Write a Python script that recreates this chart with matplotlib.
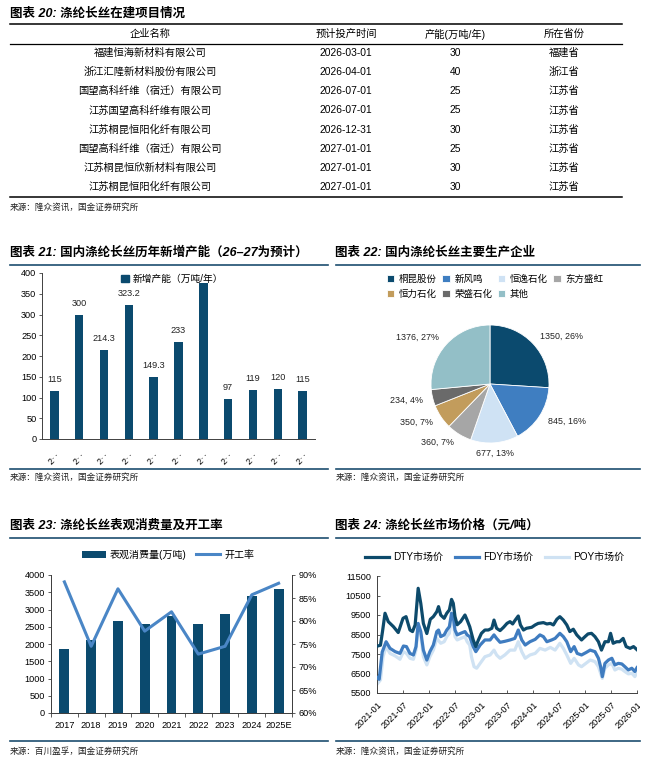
import numpy as np
import matplotlib
matplotlib.use('Agg')
import matplotlib.pyplot as plt
from matplotlib.patches import Patch
from matplotlib.ticker import FuncFormatter
from matplotlib.transforms import Bbox, TransformedBbox

plt.rcParams['font.family'] = ['Liberation Sans', 'Noto Sans CJK SC']
plt.rcParams['axes.unicode_minus'] = False

W, H = 654, 762

# ---------------- data ----------------
# 图表20 table
table_header = ['企业名称', '预计投产时间', '产能(万吨/年)', '所在省份']
companies = ['福建恒海新材料有限公司', '浙江汇隆新材料股份有限公司', '国望高科纤维（宿迁）有限公司',
             '江苏国望高科纤维有限公司', '江苏桐昆恒阳化纤有限公司', '国望高科纤维（宿迁）有限公司',
             '江苏桐昆恒欣新材料有限公司', '江苏桐昆恒阳化纤有限公司']
start_dates = ['2026-03-01', '2026-04-01', '2026-07-01', '2026-07-01',
               '2026-12-31', '2027-01-01', '2027-01-01', '2027-01-01']
capacities = [30, 40, 25, 25, 30, 25, 30, 30]
provinces = ['福建省', '浙江省', '江苏省', '江苏省', '江苏省', '江苏省', '江苏省', '江苏省']

# 图表21 new capacity
add_years = ['2017', '2018', '2019', '2020', '2021', '2022', '2023', '2024', '2025', '2026', '2027']
add_cap = [115, 300, 214.3, 323.2, 149.3, 233, 375, 97, 119, 120, 115]
add_cap_labels = ['115', '300', '214.3', '323.2', '149.3', '233', '', '97', '119', '120', '115']

# 图表22 producers
producers = ['桐昆股份', '新风鸣', '恒逸石化', '东方盛虹', '恒力石化', '荣盛石化', '其他']
producer_cap = [1350, 845, 677, 360, 350, 234, 1376]
producer_pct = [26, 16, 13, 7, 7, 4, 27]
pie_colors = ['#0b4a6e', '#3f7ec1', '#cfe2f4', '#a6a6a6', '#c29c5c', '#6a6a6a', '#93bfc7']

# 图表23 consumption & operating rate
cons_years = ['2017', '2018', '2019', '2020', '2021', '2022', '2023', '2024', '2025E']
consumption = [1850, 2130, 2680, 2570, 2800, 2570, 2880, 3400, 3600]
op_rate = [88.5, 74.5, 87.0, 77.8, 82.0, 72.8, 74.5, 85.7, 88.2]

# 图表24 prices, x = months since 2021-01
dty_m = [0, 0.8, 1.3, 1.85, 2.6, 3.8, 4.9, 6.0, 6.7, 7.6, 8.2, 8.8, 9.5, 10.1, 10.7, 11.5,
         12.3, 13.0, 13.8, 14.2, 14.7, 15.5, 16.1, 16.7, 17.2, 17.6, 18.0, 18.5, 19.3, 20.3,
         20.8, 21.4, 22.2, 22.8, 23.4, 24.1, 24.9, 25.7, 26.5, 27.0, 27.6, 28.4, 29.2, 30.0,
         30.7, 31.3, 31.9, 32.6, 33.1, 33.8, 34.5, 35.7, 36.5, 37.2, 38.4, 39.2, 40.0, 40.7,
         41.5, 42.2, 43.0, 43.8, 44.5, 45.3, 46.1, 47.2, 48.0, 48.7, 49.5, 50.3, 51.1, 51.8,
         52.6, 53.4, 53.9, 54.5, 55.3, 56.0, 56.8, 57.5, 58.4, 59.2, 60.0]
dty_v = [7900, 7950, 8700, 9590, 9160, 8900, 8600, 9330, 9415, 8730, 8650, 8990, 10870, 10100, 9070, 8550,
         9280, 9415, 9670, 9930, 9500, 9330, 9590, 9760, 10300, 10100, 9415, 9000, 9160, 9500,
         9240, 8900, 8220, 7880, 8220, 8560, 8730, 8730, 8820, 9240, 8820, 8700, 8870, 9070,
         9160, 9040, 9240, 9450, 8990, 8730, 8820, 8870, 8990, 9070, 9110, 9040, 9070, 8990,
         9280, 9415, 9240, 8990, 8650, 8770, 8480, 8220, 8390, 8530, 8560, 8390, 8130, 7700,
         8130, 8130, 8560, 8050, 8130, 8130, 8300, 7880, 7790, 7880, 7720]

fdy_m = [0, 0.5, 1.2, 2.1, 3.0, 4.2, 5.3, 6.1, 6.8, 7.6, 8.4, 9.0, 9.5, 10.1, 10.7, 11.5,
         12.2, 13.0, 13.8, 14.2, 14.7, 15.5, 16.1, 16.7, 17.2, 17.6, 18.0, 18.5, 19.3, 20.3,
         20.8, 21.4, 22.2, 22.8, 23.8, 24.9, 26.1, 27.0, 27.6, 28.4, 29.5, 30.7, 31.8, 32.6,
         33.4, 34.2, 35.3, 36.5, 37.6, 38.4, 39.2, 40.3, 41.1, 42.2, 43.0, 43.8, 44.7, 45.5,
         46.2, 47.2, 48.2, 49.2, 50.3, 51.1, 51.6, 52.0, 52.6, 53.4, 54.2, 54.9, 55.7, 56.5,
         57.2, 58.0, 58.8, 59.5, 60.0]
fdy_v = [6300, 6200, 7600, 8130, 7790, 7620, 7530, 7910, 7880, 7530, 7450, 7880, 9070, 8650, 7700, 7190,
         7620, 7960, 8650, 8730, 8390, 8480, 8730, 8900, 9590, 9415, 8730, 8480, 8560, 8650,
         8480, 8390, 7880, 7620, 7960, 8220, 8220, 8480, 8300, 8100, 8150, 8220, 8300, 8730,
         8220, 7960, 8130, 8250, 8480, 8390, 8130, 8220, 8300, 8560, 8390, 8130, 7620, 7880,
         7530, 7450, 7570, 7700, 7620, 7280, 6850, 6340, 7020, 7190, 7280, 6940, 7020, 6990,
         6850, 6680, 6770, 6600, 6800]

poy_m = [0, 0.8, 1.4, 2.1, 3.0, 4.2, 5.3, 6.1, 6.8, 7.6, 8.4, 9.0, 9.5, 10.1, 10.7, 11.5,
         12.2, 13.0, 13.8, 14.7, 15.5, 16.1, 16.7, 17.2, 17.6, 18.0, 18.5, 19.3, 20.3, 20.8,
         21.4, 21.8, 22.4, 23.0, 23.8, 24.9, 26.1, 27.0, 27.6, 28.4, 29.5, 30.7, 31.8, 32.6,
         33.4, 34.2, 35.3, 36.5, 37.6, 38.8, 40.0, 41.1, 42.2, 43.0, 43.8, 44.7, 45.5, 46.5,
         47.2, 48.2, 49.2, 50.3, 51.1, 51.6, 52.0, 52.6, 53.4, 54.2, 54.9, 55.7, 56.5, 57.2,
         58.0, 58.8, 59.5, 60.0]
poy_v = [5950, 6170, 7360, 7880, 7530, 7400, 7230, 7620, 7530, 7280, 7230, 7700, 8990, 8480, 7360, 6940,
         7360, 7700, 8300, 8050, 8130, 8390, 8560, 9330, 9160, 8390, 8220, 8300, 8390, 8130,
         7960, 7360, 6850, 6770, 7020, 7360, 7450, 7700, 7450, 7280, 7450, 7700, 7700, 8130,
         7620, 7280, 7450, 7530, 7790, 7700, 7840, 7700, 8050, 7790, 7450, 7020, 7280, 6940,
         6850, 7020, 7190, 7110, 6850, 6510, 6250, 6770, 6940, 7020, 6680, 6770, 6720, 6600,
         6480, 6510, 6340, 6550]

price_ticks = ['2021-01', '2021-07', '2022-01', '2022-07', '2023-01', '2023-07',
               '2024-01', '2024-07', '2025-01', '2025-07', '2026-01']

# ---------------- figure ----------------
NAVY = '#0b4a6e'
LINE = '#1d4e6f'
AXC = '#404040'

fig = plt.figure(figsize=(W / 100, H / 100), dpi=100)
bg = fig.add_axes([0, 0, 1, 1])
bg.set_xlim(0, W)
bg.set_ylim(H, 0)
bg.axis('off')


def px_axes(l, t, r, b):
    return fig.add_axes([l / W, 1 - b / H, (r - l) / W, (b - t) / H])


def title(x, y, s):
    bg.text(x, y, s, fontsize=9, fontweight='bold', style='italic', va='center', ha='left')


def source(x, y, s):
    bg.text(x, y, s, fontsize=6.2, va='center', ha='left', color='#222222')


# ---- 图表20 table ----
title(10, 14, '图表 20: 涤纶长丝在建项目情况')
bg.plot([10, 622], [24, 24], color='black', lw=1.1)
bg.plot([10, 622], [44, 44], color='black', lw=0.9)
bg.plot([10, 622], [197, 197], color='black', lw=1.1)
col_x = [150, 346, 455, 564]
for cx, h in zip(col_x, table_header):
    bg.text(cx, 34, h, ha='center', va='center', fontsize=7.4)
for i in range(len(companies)):
    y = 53 + 19.15 * i
    row = [companies[i], start_dates[i], str(capacities[i]), provinces[i]]
    for cx, s in zip(col_x, row):
        bg.text(cx, y, s, ha='center', va='center', fontsize=7.4)
source(10, 207, '来源：隆众资讯，国金证券研究所')

# section lines
for (x0, x1) in [(10, 328), (336, 640)]:
    bg.plot([x0, x1], [264.5, 264.5], color=LINE, lw=1.2)
    bg.plot([x0, x1], [469, 469], color=LINE, lw=1.2)
    bg.plot([x0, x1], [538, 538], color=LINE, lw=1.2)
    bg.plot([x0, x1], [741, 741], color=LINE, lw=1.2)

title(10, 253, '图表 21: 国内涤纶长丝历年新增产能（26–27为预计）')
title(335, 253, '图表 22: 国内涤纶长丝主要生产企业')
title(10, 526, '图表 23: 涤纶长丝表观消费量及开工率')
title(335, 526, '图表 24: 涤纶长丝市场价格（元/吨）')
source(10, 477, '来源：隆众资讯，国金证券研究所')
source(336, 477, '来源：隆众资讯，国金证券研究所')
source(10, 751, '来源：百川盈孚，国金证券研究所')
source(336, 751, '来源：隆众资讯，国金证券研究所')

# ---- 图表21 bars ----
ax21 = px_axes(42, 273, 315, 439)
x21 = np.arange(len(add_years))
bars21 = ax21.bar(x21, add_cap, width=0.34, color=NAVY)
ax21.bar_label(bars21, labels=add_cap_labels, padding=5, fontsize=6.6, color='#222222')
ax21.set_xlim(-0.5, len(add_years) - 0.5)
ax21.set_ylim(0, 400)
ax21.set_yticks(np.arange(0, 401, 50))
ax21.set_xticks(x21)
ax21.set_xticklabels([y[0] + '‥' for y in add_years], rotation=45, fontsize=6.3)
for s in ['top', 'right']:
    ax21.spines[s].set_visible(False)
for s in ['left', 'bottom']:
    ax21.spines[s].set_color(AXC)
    ax21.spines[s].set_linewidth(0.7)
ax21.tick_params(axis='y', labelsize=6.6, length=2, width=0.6, color=AXC, pad=2)
ax21.tick_params(axis='x', length=0, pad=8)
fig.legend(handles=[Patch(color=NAVY)], labels=['新增产能（万吨/年）'],
           loc='center left', bbox_to_anchor=(112 / W, 1 - 279 / H), frameon=False,
           fontsize=7, handlelength=0.8, handleheight=0.8, handletextpad=0.4)

# ---- 图表22 pie ----
ax22 = px_axes(410, 304, 570, 464)
wedges, _ = ax22.pie(producer_cap, colors=pie_colors, startangle=90, counterclock=False,
                     wedgeprops=dict(edgecolor='white', linewidth=0.6))
ax22.set_xlim(-80 / 59, 80 / 59)
ax22.set_ylim(-80 / 59, 80 / 59)
ax22.set_aspect('equal')
for w, v, p in zip(wedges, producer_cap, producer_pct):
    ang = np.deg2rad((w.theta1 + w.theta2) / 2)
    lx, ly = 1.17 * np.cos(ang), 1.17 * np.sin(ang)
    ha = 'left' if lx > 0.3 else ('right' if lx < -0.3 else 'center')
    ax22.text(lx, ly, f'{v}, {p}%', ha=ha, va='center', fontsize=6.4, color='#222222')
order = [0, 4, 1, 5, 2, 6, 3]
fig.legend([wedges[i] for i in order], [producers[i] for i in order], ncol=4,
           loc='upper left', bbox_to_anchor=(387 / W, 1 - 275 / H), frameon=False,
           fontsize=6.8, handlelength=0.75, handleheight=0.75, handletextpad=0.5,
           columnspacing=0.6, labelspacing=0.55, borderaxespad=0, borderpad=0)

# ---- 图表23 bars + line ----
ax23 = px_axes(51, 575, 292, 713)
x23 = np.arange(len(cons_years))
ax23.bar(x23, consumption, width=0.37, color=NAVY, label='表观消费量(万吨)')
ax23.set_xlim(-0.5, len(cons_years) - 0.5)
ax23.set_ylim(0, 4000)
ax23.set_yticks(np.arange(0, 4001, 500))
ax23.set_xticks(x23)
ax23.set_xticklabels(cons_years)
ax23.set_xticks(np.arange(-0.5, len(cons_years), 1), minor=True)
ax23r = ax23.twinx()
ax23r.plot(x23, op_rate, color='#4a86c6', lw=2.2, label='开工率')
ax23r.set_ylim(60, 90)
ax23r.set_yticks(np.arange(60, 91, 5))
ax23r.yaxis.set_major_formatter(FuncFormatter(lambda v, _: f'{v:.0f}%'))
for a in (ax23, ax23r):
    a.spines['top'].set_visible(False)
    for s in ['left', 'right', 'bottom']:
        a.spines[s].set_color(AXC)
        a.spines[s].set_linewidth(0.7)
    a.tick_params(axis='y', labelsize=6.6, length=2.5, width=0.6, color=AXC, pad=2)
ax23.tick_params(axis='x', which='major', length=0, labelsize=6.6, pad=6)
ax23.tick_params(axis='x', which='minor', length=3, width=0.6, color=AXC)
h1, l1 = ax23.get_legend_handles_labels()
h2, l2 = ax23r.get_legend_handles_labels()
fig.legend(h1 + h2, l1 + l2, ncol=2, loc='center', bbox_to_anchor=(168 / W, 1 - 555 / H),
           frameon=False, fontsize=7.2, handlelength=2.4, handleheight=0.8,
           handletextpad=0.4, columnspacing=1.0)

# ---- 图表24 prices ----
ax24 = px_axes(377, 576, 637, 693)
ax24.plot(poy_m, poy_v, color='#cfe2f3', lw=2.3, label='POY市场价', zorder=2)
ax24.plot(fdy_m, fdy_v, color='#3f7cc0', lw=2.3, label='FDY市场价', zorder=3)
ax24.plot(dty_m, dty_v, color='#0d4a6b', lw=2.3, label='DTY市场价', zorder=4)
ax24.set_xlim(0, 60)
ax24.set_ylim(5500, 11500)
ax24.set_yticks(np.arange(5500, 11501, 1000))
ax24.set_xticks(np.arange(0, 61, 6))
ax24.set_xticklabels(price_ticks, rotation=45, ha='right', rotation_mode='anchor')
for s in ['top', 'right']:
    ax24.spines[s].set_visible(False)
for s in ['left', 'bottom']:
    ax24.spines[s].set_color(AXC)
    ax24.spines[s].set_linewidth(0.7)
ax24.tick_params(axis='both', direction='in', length=2.5, width=0.6, color=AXC, labelsize=6.6)
ax24.tick_params(axis='x', pad=5)
ax24.tick_params(axis='y', pad=4)
# the source picture is cut at the right edge of the panel
clip = TransformedBbox(Bbox([[0, 0], [640 / W, 1]]), fig.transFigure)
for t in ax24.get_xticklabels():
    t.set_clip_box(clip)
    t.set_clip_on(True)
hh, ll = ax24.get_legend_handles_labels()
fig.legend(hh[::-1], ll[::-1], ncol=3, loc='center', bbox_to_anchor=(495 / W, 1 - 557 / H),
           frameon=False, fontsize=7.2, handlelength=2.4, handletextpad=0.4, columnspacing=1.2)

fig.savefig('out.png', dpi=100)
